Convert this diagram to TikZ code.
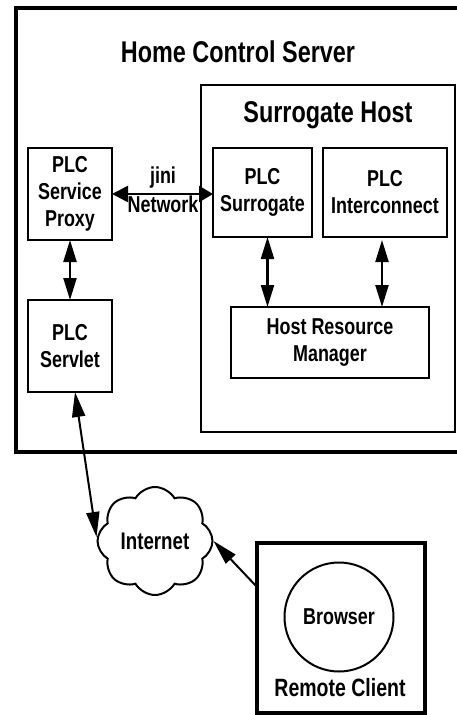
\documentclass[tikz,border=0pt]{standalone}
\usepackage{fontspec}
\setmainfont{Liberation Sans}[FakeStretch=0.78]
\usetikzlibrary{arrows.meta,shapes.symbols,shapes.geometric}
\begin{document}
\begin{tikzpicture}[x=1pt,y=-1pt,
  container/.style={draw,line width=#1,inner sep=0pt,outer sep=0pt},
  title/.style={font=\bfseries\fontsize{30}{34}\selectfont,inner sep=0pt},
  box/.style={draw,line width=2.5pt,align=center,inner sep=0pt,outer sep=0pt,
    font=\bfseries\fontsize{23}{27}\selectfont},
  lbl/.style={font=\bfseries\fontsize{23}{27}\selectfont,inner sep=0pt},
  hhead/.style={Triangle[length=16pt,width=16pt]},
  vhead/.style={Triangle[length=22pt,width=13pt]},
  hlink/.style={line width=2.5pt,{Triangle[length=16pt,width=16pt]}-{Triangle[length=14pt,width=16pt]}},
  vlink/.style={line width=2.2pt,{Triangle[length=22pt,width=13pt]}-{Triangle[length=22pt,width=13pt]}},
  nlink/.style={line width=2pt,{Triangle[length=25pt,width=13pt]}-{Triangle[length=25pt,width=13pt]}},
  olink/.style={line width=2pt,-{Triangle[length=25pt,width=13pt]}}]
\useasboundingbox (0,0) rectangle (457,715);
\clip (0,0) rectangle (457,715);

% Home Control Server
\node[container=4pt,minimum width=464pt,minimum height=444pt] (hcs) at (248,230) {};
\node[title] (hcst) at (238,52) {Home Control Server};

% Surrogate Host
\node[container=2pt,minimum width=254pt,minimum height=347pt] (sh) at (328,258.5) {};
\node[title] (sht) at (328,115) {Surrogate Host};

% boxes
\node[box,minimum width=84pt,minimum height=92pt] (proxy) at (70,194) {PLC\\Service\\Proxy};
\node[box,minimum width=84pt,minimum height=92pt] (servlet) at (70,346) {PLC\\Servlet};
\node[box,minimum width=99pt,minimum height=89pt] (surr) at (262.5,192.5) {PLC\\Surrogate};
\node[box,minimum width=124pt,minimum height=89pt] (inter) at (385,192.5) {PLC\\Interconnect};
\node[box,minimum width=198pt,minimum height=71pt] (hrm) at (330,342.5) {Host Resource\\Manager};

% jini network
\draw[hlink] (proxy.east) -- (proxy.east -| surr.west);
\node[lbl] (jini) at (163,178) {jini};
\node[lbl] (net) at (163,204) {Network};

% vertical links
\draw[vlink] (proxy.south) -- (servlet.north);
\coordinate (s1) at ([xshift=5pt]surr.south);
\draw[vlink] (s1) -- (s1 |- hrm.north);
\coordinate (i1) at ([xshift=-3pt,yshift=-3pt]inter.south);
\draw[vlink] (i1) -- (i1 |- hrm.north);

% cloud
\node[cloud,draw,line width=2pt,cloud puffs=8,cloud puff arc=120,aspect=1.07,
  minimum width=115pt,minimum height=108pt,inner sep=0pt,
  font=\bfseries\fontsize{24}{28}\selectfont] (cloud) at (155,541) {Internet};

% remote client
\node[container=4pt,minimum width=168pt,minimum height=170pt] (client) at (341,628) {};
\node[circle,draw,line width=2pt,minimum size=109pt,inner sep=0pt,
  font=\bfseries\fontsize{23}{27}\selectfont] (browser) at (339,617) {Browser};
\node[lbl,font=\bfseries\fontsize{25}{29}\selectfont] (rc) at (340,688) {Remote Client};

\coordinate (sv) at ([xshift=5pt]servlet.south);
\coordinate (cw) at ([yshift=4pt]cloud.west);
\draw[nlink] (sv) -- (cw);
\coordinate (cl) at ([yshift=-44pt]client.north west);
\draw[olink] (cl) -- (cloud.east);
\end{tikzpicture}
\end{document}
